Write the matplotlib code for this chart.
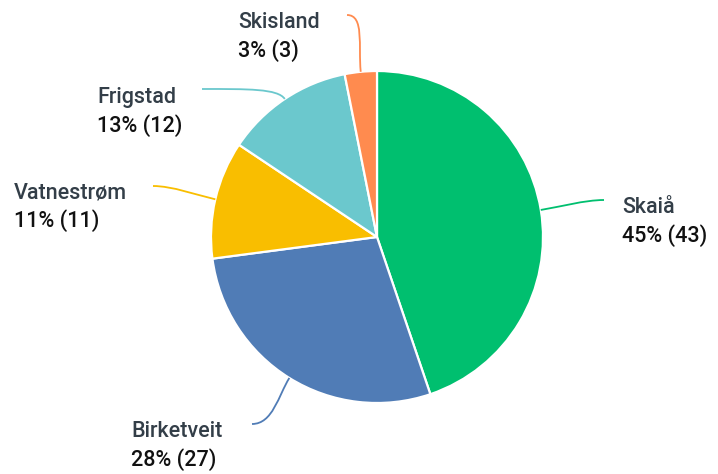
import numpy as np
import matplotlib
matplotlib.use("Agg")
import matplotlib.pyplot as plt
from matplotlib.path import Path
from matplotlib.patches import PathPatch

# ---- data ----
categories = ["Skaiå", "Birketveit", "Vatnestrøm", "Frigstad", "Skisland"]
counts = [43, 27, 11, 12, 3]
colors = ["#00BF6F", "#507CB6", "#F9BE00", "#6BC8CD", "#FF8B4F"]

# ---- layout (pixel space) ----
W, H = 718, 474
CX, CY, R = 377, 237, 166
label_pos = {
    "Skaiå": (622, 213),
    "Birketveit": (131, 437),
    "Vatnestrøm": (14, 198),
    "Frigstad": (97, 103),
    "Skisland": (238, 28),
}
leader_end = {
    "Skaiå": (604, 200),
    "Birketveit": (252, 424),
    "Vatnestrøm": (153, 186),
    "Frigstad": (202, 89),
    "Skisland": (347, 15),
}
leader_shape = {  # (radial factor, horizontal factor)
    "Skaiå": (0.3, 0.3),
    "Birketveit": (0.35, 0.35),
    "Vatnestrøm": (0.3, 0.3),
    "Frigstad": (0.15, 0.55),
    "Skisland": (0.45, 0.3),
}

fig = plt.figure(figsize=(W / 100, H / 100), dpi=100)
ax = fig.add_axes([0, 0, 1, 1])
ax.pie(counts, colors=colors, startangle=-90, counterclock=True,
       center=(CX, CY), radius=R,
       wedgeprops=dict(edgecolor="white", linewidth=1.6))
ax.set_xlim(0, W)
ax.set_ylim(H, 0)
ax.set_aspect("auto")
ax.axis("off")

total = sum(counts)
cum = np.cumsum([0] + counts)
font = ["Roboto", "DejaVu Sans"]
for i, (name, c) in enumerate(zip(categories, counts)):
    mid = (cum[i] + cum[i + 1]) / 2 / total
    th = np.deg2rad(-90 + 360 * mid)
    d = np.array([np.cos(th), np.sin(th)])
    p0 = np.array([CX, CY]) + R * d
    p3 = np.array(leader_end[name], dtype=float)
    dist = np.linalg.norm(p3 - p0)
    fr, fh = leader_shape[name]
    p1 = p0 + d * dist * fr
    sgn = 1 if p3[0] > CX else -1
    p2 = p3 - np.array([sgn, 0]) * dist * fh
    path = Path([p0, p1, p2, p3], [Path.MOVETO, Path.CURVE4, Path.CURVE4, Path.CURVE4])
    ax.add_patch(PathPatch(path, fill=False, edgecolor=colors[i], linewidth=1.3))
    lx, ly = label_pos[name]
    pct = int(np.floor(100 * c / total + 0.5))
    ax.text(lx, ly, name, fontsize=15.5, color="#333E48", fontweight="medium",
            family=font, ha="left", va="baseline")
    ax.text(lx, ly + 29, f"{pct}% ({c})", fontsize=15.5, color="#111111",
            fontweight="medium", family=font, ha="left", va="baseline")

fig.savefig("out.png", dpi=100, facecolor="white")
